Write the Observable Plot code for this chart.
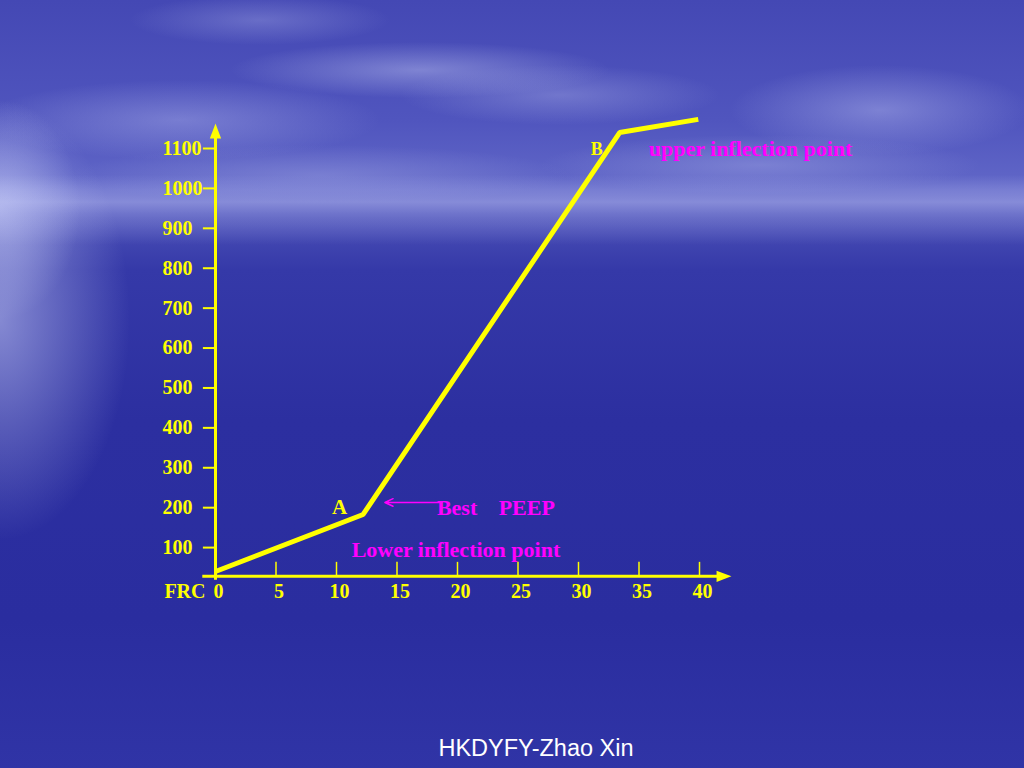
<!DOCTYPE html>
<html>
<head>
<meta charset="utf-8">
<script src="https://cdn.jsdelivr.net/npm/d3@7"></script>
<script src="https://cdn.jsdelivr.net/npm/@observablehq/plot@0.6"></script>
<style>
  html, body { margin: 0; padding: 0; }
  body {
    width: 1024px; height: 768px; overflow: hidden; position: relative;
    background:
      radial-gradient(ellipse 130px 220px at 0px 320px, rgba(215,220,255,0.5), rgba(215,220,255,0) 100%),
      radial-gradient(ellipse 80px 110px at 0px 210px, rgba(215,220,255,0.45), rgba(215,220,255,0) 100%),
      linear-gradient(to bottom, rgba(0,0,0,0) 0px, rgba(0,0,0,0) 175px, rgba(165,170,232,0.6) 202px, rgba(150,155,225,0.45) 214px, rgba(0,0,0,0) 245px),
      radial-gradient(ellipse 190px 28px at 420px 70px, rgba(190,195,240,0.45), rgba(190,195,240,0) 100%),
      radial-gradient(ellipse 160px 30px at 560px 95px, rgba(180,185,235,0.35), rgba(180,185,235,0) 100%),
      radial-gradient(ellipse 200px 40px at 180px 120px, rgba(180,185,238,0.4), rgba(180,185,238,0) 100%),
      radial-gradient(ellipse 150px 45px at 880px 110px, rgba(180,185,238,0.45), rgba(180,185,238,0) 100%),
      radial-gradient(ellipse 220px 30px at 760px 165px, rgba(170,175,232,0.4), rgba(170,175,232,0) 100%),
      radial-gradient(ellipse 250px 30px at 320px 175px, rgba(170,175,232,0.35), rgba(170,175,232,0) 100%),
      radial-gradient(ellipse 130px 25px at 260px 20px, rgba(170,175,232,0.35), rgba(170,175,232,0) 100%),
      linear-gradient(to bottom, #4448b4 0px, #5055be 120px, #6268c8 190px, #4a4fb6 218px, #3539a8 270px, #2c2fa0 420px, #2a2d9f 620px, #3034a6 768px);
  }
  #footer {
    position: absolute; top: 735px; left: 536px; transform: translateX(-50%);
    font-family: "Liberation Sans", Arial, sans-serif; font-size: 23.5px; color: #ffffff;
    white-space: nowrap;
  }
  #chart { position: absolute; left: 0; top: 0; }
</style>
</head>
<body>
<div id="chart"></div>
<div id="footer">HKDYFY-Zhao Xin</div>
<script>
// ---- data ----
const curveX = [0, 12.2, 33.4, 39.9];
const curveY = [40, 183, 1140, 1173];
const xTicks = [5, 10, 15, 20, 25, 30, 35, 40];
const xTickLabels = ["0", "5", "10", "15", "20", "25", "30", "35", "40"];
const xTickLabelValues = [0, 5, 10, 15, 20, 25, 30, 35, 40];
const yTicks = [100, 200, 300, 400, 500, 600, 700, 800, 900, 1000, 1100];
const yTickLabels = ["100", "200", "300", "400", "500", "600", "700", "800", "900", "1000", "1100"];
const baseLabel = "FRC";

const curve = curveX.map((x, i) => ({x, y: curveY[i]}));

const YELLOW = "#ffff00";
const MAGENTA = "#ff00ff";
const SERIF = "Liberation Serif, Times New Roman, serif";

const triUp = {
  draw(ctx, size) {
    const h = Math.sqrt(size) * 1.4, w = h * 0.38;
    ctx.moveTo(0, -h * 0.6); ctx.lineTo(w, h * 0.4); ctx.lineTo(-w, h * 0.4); ctx.closePath();
  }
};
const triRight = {
  draw(ctx, size) {
    const h = Math.sqrt(size) * 1.4, w = h * 0.38;
    ctx.moveTo(h * 0.6, 0); ctx.lineTo(-h * 0.4, w); ctx.lineTo(-h * 0.4, -w); ctx.closePath();
  }
};

const axisY0 = 28; // y value where the horizontal axis sits

const chart = Plot.plot({
  width: 1024,
  height: 768,
  margin: 0,
  x: {domain: [0, 40], range: [215, 699], axis: null},
  y: {domain: [0, 1100], range: [587, 148], axis: null},
  style: {background: "transparent", overflow: "visible"},
  marks: [
    // axes
    Plot.ruleX([0], {y1: 18, y2: 1136, stroke: YELLOW, strokeWidth: 3}),
    Plot.ruleY([axisY0], {x1: -1.05, x2: 41.7, stroke: YELLOW, strokeWidth: 3}),
    Plot.dot([0], {x: 0, y: 1140, symbol: triUp, r: 6, fill: YELLOW, stroke: "none"}),
    Plot.dot([0], {x: 41.9, y: axisY0, symbol: triRight, r: 6, fill: YELLOW, stroke: "none"}),
    // ticks
    Plot.ruleY(yTicks, {x1: -1.0, x2: 0, stroke: YELLOW, strokeWidth: 2}),
    Plot.ruleX(xTicks, {y1: axisY0, y2: 63, stroke: YELLOW, strokeWidth: 1.5}),
    // tick labels
    Plot.text(yTickLabels, {x: 0, y: (d, i) => yTicks[i], text: d => d, dx: -53, textAnchor: "start",
      fill: YELLOW, fontFamily: SERIF, fontWeight: "bold", fontSize: 20}),
    Plot.text(xTickLabels, {x: (d, i) => xTickLabelValues[i], y: axisY0, text: d => d, dx: 3, dy: 15,
      textAnchor: "middle", fill: YELLOW, fontFamily: SERIF, fontWeight: "bold", fontSize: 20}),
    Plot.text([baseLabel], {x: 0, y: axisY0, text: d => d, dx: -10, dy: 15, textAnchor: "end",
      fill: YELLOW, fontFamily: SERIF, fontWeight: "bold", fontSize: 20}),
    // curve
    Plot.line(curve, {x: "x", y: "y", stroke: YELLOW, strokeWidth: 5, strokeLinejoin: "miter", strokeLinecap: "butt"}),
    // annotations
    Plot.text(["A"], {x: 10.25, y: 200, text: d => d, fill: YELLOW, fontFamily: SERIF, fontWeight: "bold", fontSize: 21}),
    Plot.text(["B"], {x: 31.5, y: 1098, text: d => d, fill: YELLOW, fontFamily: SERIF, fontWeight: "bold", fontSize: 18}),
    Plot.text(["upper inflection point"], {x: 35.8, y: 1098, text: d => d, textAnchor: "start",
      fill: MAGENTA, fontFamily: SERIF, fontWeight: "bold", fontSize: 22}),
    Plot.text(["Best"], {x: 18.3, y: 200, text: d => d, textAnchor: "start",
      fill: MAGENTA, fontFamily: SERIF, fontWeight: "bold", fontSize: 22}),
    Plot.text(["PEEP"], {x: 23.4, y: 200, text: d => d, textAnchor: "start",
      fill: MAGENTA, fontFamily: SERIF, fontWeight: "bold", fontSize: 22}),
    Plot.text(["Lower inflection point"], {x: 11.25, y: 95, text: d => d, textAnchor: "start",
      fill: MAGENTA, fontFamily: SERIF, fontWeight: "bold", fontSize: 22}),
    Plot.arrow([0], {x1: 18.7, y1: 213, x2: 14.0, y2: 213, stroke: MAGENTA, strokeWidth: 1.5,
      headLength: 9, headAngle: 50})
  ]
});
document.getElementById("chart").appendChild(chart);
</script>
</body>
</html>
